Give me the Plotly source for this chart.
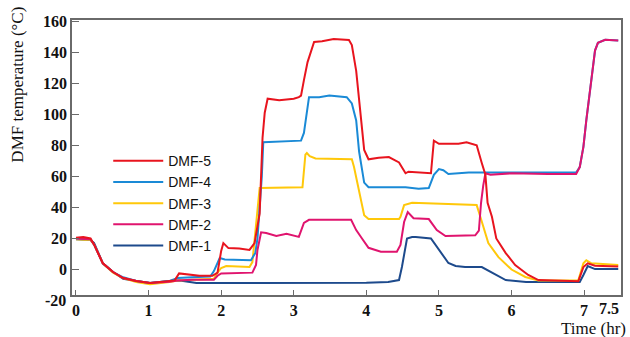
import plotly.graph_objects as go

# ---- data (time in hr, temperature in °C) ----
t5 = [0, 0.1, 0.2, 0.25, 0.37, 0.51, 0.65, 0.83, 1.02, 1.29, 1.36, 1.42, 1.5, 1.7, 1.88, 1.95, 2.0, 2.03, 2.1, 2.25, 2.39,
      2.46, 2.53, 2.57, 2.6, 2.64, 2.8, 3.0, 3.07, 3.1, 3.14, 3.19, 3.28, 3.39, 3.55, 3.76, 3.8, 3.86, 3.97, 4.03, 4.17,
      4.31, 4.45, 4.54, 4.58, 4.89, 4.93, 5.0, 5.1, 5.27, 5.38, 5.52, 5.59, 5.64, 5.67, 5.73, 5.79, 5.92, 6.05, 6.23,
      6.37, 6.6, 6.92, 6.99, 7.05, 7.15, 7.47]
v5 = [20.5, 21, 20, 16, 4, -1.6, -5.5, -7.4, -8.7, -7.4, -7, -2.5, -3, -4, -4, -2, 12, 17, 13.8, 13.5, 12.6,
      17, 36, 85, 101, 110, 109, 110, 111, 112, 122, 133.6, 146.5, 147, 148.5, 147.8, 144.6, 128, 77, 71, 72,
      72.4, 69, 62, 63, 62, 83, 81, 81, 81, 82, 80, 68.6, 61, 43, 34, 20, 10.6, 2.9, -3.5,
      -6.8, -7, -7.5, 1.6, 4, 2.5, 2]

t4 = [0, 0.2, 0.25, 0.37, 0.51, 0.65, 0.83, 1.02, 1.29, 1.4, 1.6, 1.85, 1.9, 1.98, 2.05, 2.41, 2.47, 2.5, 2.56, 2.58,
      3.1, 3.14, 3.21, 3.35, 3.49, 3.73, 3.8, 3.86, 3.9, 3.97, 4.03, 4.54, 4.72, 4.86, 4.93, 5.0, 5.06, 5.13, 5.41,
      6.0, 6.89, 6.94, 6.99, 7.03, 7.08, 7.11, 7.15, 7.19, 7.29, 7.47]
v4 = [20, 19.5, 16, 4, -1.6, -5, -7.4, -8.7, -7.4, -5.5, -5, -4.5, -1, 7.4, 6.5, 6, 10.6, 20, 60, 82,
      83, 88, 111, 111, 112, 111, 107, 96, 76, 56, 53, 53, 52, 52.5, 61, 64.7, 64, 61.5, 62.5,
      62.5, 62.5, 66, 79, 96, 115.6, 128.5, 141, 146, 148, 147.5]

t3 = [0, 0.2, 0.25, 0.37, 0.51, 0.65, 0.83, 1.02, 1.29, 1.4, 1.6, 1.9, 1.95, 2.0, 2.07, 2.39, 2.43, 2.48, 2.53,
      3.12, 3.16, 3.18, 3.22, 3.3, 3.72, 3.8, 3.83, 3.9, 3.97, 4.03, 4.45, 4.47, 4.52, 4.63, 5.52, 5.57, 5.68,
      5.82, 6.0, 6.19, 6.37, 6.92, 6.99, 7.03, 7.1, 7.47]
v3 = [19.5, 19, 16, 4, -2, -5.5, -8, -9.5, -8, -7, -6.5, -6, -2, 1, 2.3, 1.6, 4.8, 30, 52.5,
      53, 74, 75, 73, 71.5, 71, 71, 66, 51, 35, 32.5, 32.5, 34, 41.5, 43, 41.5, 34, 17,
      8, 0, -4.8, -7, -7, 4, 6, 4, 3]

t2 = [0, 0.2, 0.25, 0.37, 0.51, 0.65, 0.83, 1.02, 1.29, 1.4, 1.6, 1.9, 1.95, 2.0, 2.43, 2.48, 2.5, 2.55, 2.62,
      2.76, 2.9, 3.07, 3.14, 3.21, 3.79, 3.86, 3.94, 4.03, 4.2, 4.42, 4.47, 4.52, 4.57, 4.65, 4.86, 4.97, 5.09,
      5.5, 5.55, 5.58, 5.61, 5.64, 5.71, 6.0, 6.5, 6.89, 6.94, 6.99, 7.03, 7.08, 7.11, 7.15, 7.19, 7.29, 7.47]
v2 = [20, 19.5, 16, 4, -1.6, -5.5, -7.4, -8.7, -7.8, -7, -6.5, -6.5, -4, -2.5, -2, 3, 12.6, 24, 23.5,
      21.6, 23, 21, 30, 32, 32, 25.4, 20, 14, 11.5, 11.5, 15.8, 30.6, 37, 33, 32.5, 25.4, 21.6,
      22, 25, 43, 54, 62, 61, 62, 61.5, 61.5, 66, 79, 96, 115.6, 128.5, 141, 146, 148, 147.5]

t1 = [0, 0.2, 0.25, 0.37, 0.51, 0.65, 0.83, 1.02, 1.29, 1.43, 1.66, 2.0, 3.0, 4.0, 4.3, 4.45, 4.49, 4.56, 4.63,
      4.68, 4.89, 5.0, 5.13, 5.23, 5.36, 5.59, 5.78, 5.92, 6.2, 6.94, 6.99, 7.05, 7.15, 7.47]
v1 = [19.5, 19, 17, 4, -1.6, -6, -7.4, -8.7, -7.4, -7, -8.7, -8.7, -8.7, -8.5, -8, -6.8, 1.6, 20, 21,
      21, 20, 12.6, 4.2, 2.3, 1.6, 1.6, -3.5, -6.8, -8, -8, -3.5, 2.3, 0.3, 0.3]

x_ticks = [0, 1, 2, 3, 4, 5, 6, 7]
y_ticks = [0, 20, 40, 60, 80, 100, 120, 140, 160]

series = [  # drawing order; legendrank controls legend order
    ("DMF-1", t1, v1, "#1d4a8c", 5),
    ("DMF-3", t3, v3, "#ffc80a", 3),
    ("DMF-4", t4, v4, "#1a8ad6", 2),
    ("DMF-2", t2, v2, "#e0146e", 4),
    ("DMF-5", t5, v5, "#e8141e", 1),
]

Y0, Y1 = -16.4, 160.7

fig = go.Figure()
for name, tx, vy, col, rank in series:
    fig.add_trace(go.Scatter(x=tx, y=vy, mode="lines", name=name, legendrank=rank,
                             line=dict(color=col, width=2)))

tick_font = dict(family="Liberation Serif", size=16, color="#111")
fig.update_layout(
    width=630, height=337,
    margin=dict(l=72, r=7, t=20, b=42),
    paper_bgcolor="white", plot_bgcolor="white",
    showlegend=True,
    legend=dict(x=0.066, y=0.545, xanchor="left", yanchor="top", bgcolor="rgba(0,0,0,0)",
                font=dict(family="Liberation Sans", size=14, color="#111"),
                itemwidth=50, tracegroupgap=0),
    xaxis=dict(range=[-0.055, 7.508], tickvals=x_ticks, ticktext=[f"<b>{v}</b>" for v in x_ticks],
               tickfont=tick_font, showgrid=False, zeroline=False,
               showline=True, linecolor="#6a6a6a", linewidth=1.5, mirror=True,
               ticks="inside", ticklen=5, tickcolor="#6a6a6a"),
    yaxis=dict(range=[Y0, Y1], tickvals=y_ticks, ticktext=[f"<b>{v}</b>" for v in y_ticks],
               tickfont=tick_font, showgrid=False, zeroline=False,
               showline=True, linecolor="#6a6a6a", linewidth=1.5, mirror=True,
               ticks="inside", ticklen=7, tickcolor="#6a6a6a"),
    annotations=[
        dict(text="<b>-20</b>", x=0, xref="paper", y=(-20 - Y0) / (Y1 - Y0), yref="paper",
             xanchor="right", yanchor="middle", xshift=-4, showarrow=False, font=tick_font),
        dict(text="<b>7.5</b>", x=7.508, xref="x", y=0, yref="paper", xanchor="right", yanchor="top",
             yshift=-3, showarrow=False, font=tick_font),
        dict(text="Time (hr)", x=1, xref="paper", xanchor="right", xshift=7, y=0, yref="paper",
             yanchor="top", yshift=-22, showarrow=False,
             font=dict(family="Liberation Serif", size=17, color="#111")),
        dict(text="DMF temperature (°C)", x=0, xref="paper", xanchor="center", xshift=-54,
             y=0.765, yref="paper", yanchor="middle", textangle=-90, showarrow=False,
             font=dict(family="Liberation Serif", size=17, color="#111")),
    ],
)

fig.write_html("out.html")
